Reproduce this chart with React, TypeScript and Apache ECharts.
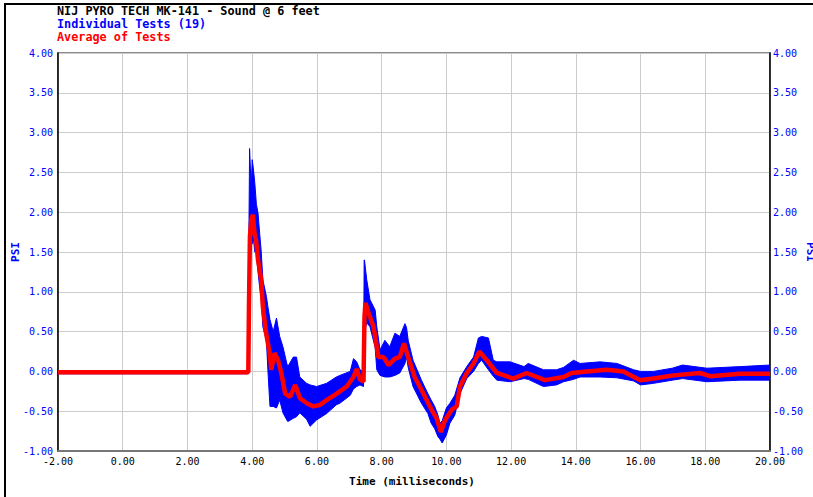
import React, { useEffect, useRef } from "react";
import * as echarts from "echarts";

const TITLE = "NIJ PYRO TECH MK-141 - Sound @ 6 feet";
const LEGEND_TESTS = "Individual Tests (19)";
const LEGEND_AVG = "Average of Tests";
const X_NAME = "Time (milliseconds)";
const Y_NAME = "PSI";

// Envelope of the 19 individual tests (time ms, lower PSI, upper PSI)
const BAND_T = [
  -2.0, 3.86, 3.88, 3.9, 3.92, 3.97, 4.0, 4.03, 4.08, 4.13, 4.18, 4.23, 4.28, 4.33, 4.44, 4.49,
  4.55, 4.65, 4.75, 4.85, 4.95, 5.07, 5.1, 5.27, 5.37, 5.47, 5.68, 5.79, 5.99, 6.3, 6.6, 6.71,
  7.03, 7.13, 7.23, 7.33, 7.44, 7.46, 7.47, 7.54, 7.64, 7.8, 7.85, 7.95, 8.1, 8.25, 8.41, 8.56,
  8.72, 8.77, 8.82, 8.97, 9.23, 9.43, 9.53, 9.64, 9.74, 9.8, 9.87, 10.0, 10.11, 10.26, 10.42,
  10.63, 10.84, 10.99, 11.09, 11.3, 11.45, 11.56, 11.97, 12.4, 12.53, 13.0, 13.4, 13.62, 13.93,
  14.13, 14.75, 15.27, 15.79, 16.0, 16.4, 16.98, 17.3, 18.05, 19.08, 20.0,
];
const BAND_LO = [
  -0.03, -0.03, -0.02, 0.7, 1.5, 1.65, 1.6, 1.7, 1.5, 1.49, 1.25, 1.06, 0.9, 0.56, 0.39, -0.02,
  -0.44, -0.44, -0.46, -0.36, -0.52, -0.61, -0.63, -0.59, -0.57, -0.52, -0.6, -0.69, -0.61, -0.53, -0.42, -0.4,
  -0.3, -0.22, -0.19, -0.17, -0.19, 0.2, 0.5, 0.61, 0.56, 0.3, 0.02, -0.05, -0.07, -0.07, -0.05, -0.02,
  0.1, 0.18, 0.05, -0.19, -0.4, -0.53, -0.65, -0.72, -0.82, -0.85, -0.9, -0.8, -0.65, -0.55, -0.28,
  -0.09, 0.0, 0.1, 0.14, 0.02, -0.06, -0.11, -0.13, -0.09, -0.1, -0.19, -0.17, -0.13, -0.1,
  -0.07, -0.07, -0.08, -0.12, -0.17, -0.15, -0.11, -0.09, -0.13, -0.11, -0.11,
];
const BAND_HI = [
  0.01, 0.01, 0.02, 1.8, 2.8, 2.3, 2.66, 2.57, 2.37, 2.1, 1.99, 1.74, 1.5, 1.15, 0.94, 0.8,
  0.65, 0.5, 0.67, 0.44, 0.31, 0.1, 0.06, 0.18, 0.18, -0.07, -0.15, -0.17, -0.19, -0.15, -0.07, -0.05,
  0.0, 0.16, 0.12, 0.02, 0.0, 1.4, 1.4, 1.15, 0.9, 0.77, 0.56, 0.27, 0.39, 0.31, 0.48, 0.44,
  0.6, 0.55, 0.39, 0.14, -0.11, -0.28, -0.36, -0.44, -0.55, -0.65, -0.62, -0.46, -0.4, -0.3, -0.08,
  0.06, 0.18, 0.42, 0.44, 0.42, 0.14, 0.12, 0.12, 0.06, 0.1, 0.02, 0.02, 0.05, 0.14,
  0.1, 0.12, 0.1, 0.02, 0.0, 0.0, 0.04, 0.08, 0.04, 0.06, 0.08,
];

// Average of tests
const AVG_T = [
  -2.0, 3.88, 3.9, 3.93, 3.97, 4.02, 4.07, 4.12, 4.18, 4.28, 4.33, 4.43, 4.54, 4.59, 4.69, 4.8,
  4.9, 5.02, 5.17, 5.33, 5.48, 5.69, 5.89, 6.1, 6.3, 6.61, 6.92, 7.13, 7.23, 7.33, 7.44, 7.47,
  7.5, 7.6, 7.75, 7.9, 8.06, 8.21, 8.41, 8.56, 8.69, 8.82, 9.02, 9.23, 9.54, 9.7, 9.83, 9.96,
  10.17, 10.32, 10.42, 10.63, 10.84, 11.02, 11.25, 11.56, 12.07, 12.48, 13.05, 13.62, 13.87,
  14.34, 14.96, 15.47, 15.99, 16.4, 17.02, 17.84, 18.15, 19.08, 20.0,
];
const AVG_V = [
  -0.01, -0.01, 0.8, 1.69, 1.9, 1.97, 1.74, 1.65, 1.4, 1.15, 0.81, 0.48, 0.23, 0.02, 0.23, 0.14,
  -0.02, -0.28, -0.32, -0.17, -0.34, -0.4, -0.44, -0.42, -0.36, -0.28, -0.19, -0.07, 0.03, -0.1, -0.13, 0.69,
  0.86, 0.73, 0.56, 0.18, 0.18, 0.08, 0.16, 0.18, 0.35, 0.18, -0.07, -0.23, -0.48, -0.59, -0.76, -0.61,
  -0.48, -0.44, -0.19, -0.02, 0.1, 0.25, 0.14, -0.02, -0.09, -0.02, -0.11, -0.07, -0.02,
  0.0, 0.02, 0.0, -0.11, -0.09, -0.05, -0.02, -0.06, -0.03, -0.03,
];

const X_MIN = -2;
const X_MAX = 20;
const X_STEP = 2;
const Y_MIN = -1;
const Y_MAX = 4;
const Y_STEP = 0.5;

const MONO = "'DejaVu Sans Mono', 'Liberation Mono', monospace";
const BLUE = "#0000ff";
const RED = "#ff0000";

export default function App() {
  const ref = useRef<HTMLDivElement>(null);

  useEffect(() => {
    if (!ref.current) return;
    const chart = echarts.init(ref.current, null, { renderer: "svg" });

    const bandData = BAND_T.map((t, i) => [t, BAND_LO[i], BAND_HI[i]]);
    const avgData = AVG_T.map((t, i) => [t, AVG_V[i]]);

    const yLabel = {
      color: BLUE,
      fontFamily: MONO,
      fontSize: 10,
      formatter: (v: number) => v.toFixed(2),
    };

    const renderBand = (params: any, api: any) => {
      if (params.dataIndex !== 0) return null;
      const upper = BAND_T.map((t, i) => api.coord([t, BAND_HI[i]]));
      const lower = BAND_T.map((t, i) => api.coord([t, BAND_LO[i]])).reverse();
      const cs = params.coordSys;
      return {
        type: "polygon",
        shape: { points: upper.concat(lower) },
        style: { fill: BLUE, stroke: BLUE, lineWidth: 1 },
        clipPath: {
          type: "rect",
          shape: { x: cs.x, y: cs.y, width: cs.width, height: cs.height },
        },
      };
    };

    const textStyle = (text: string, fill: string, size: number, align = "left") => ({
      text,
      fill,
      font: `bold ${size}px ${MONO}`,
      textAlign: align,
      textVerticalAlign: "middle",
      lineHeight: 12,
    });

    chart.setOption({
      animation: false,
      backgroundColor: "#ffffff",
      grid: {
        left: 58,
        right: 43,
        top: 53,
        bottom: 46,
        show: true,
        borderColor: "#666666",
        borderWidth: 1.5,
        outerBoundsMode: "none",
      },
      xAxis: {
        type: "value",
        min: X_MIN,
        max: X_MAX,
        interval: X_STEP,
        axisLine: { show: true, onZero: false, lineStyle: { color: "#777777", width: 2 } },
        axisTick: { show: false },
        axisLabel: {
          color: "#000000",
          fontFamily: MONO,
          fontSize: 10,
          margin: 5,
          formatter: (v: number) => v.toFixed(2),
        },
        splitLine: { show: true, lineStyle: { color: "#cccccc", width: 1 } },
      },
      yAxis: [
        {
          type: "value",
          position: "left",
          min: Y_MIN,
          max: Y_MAX,
          interval: Y_STEP,
          axisLine: { show: true, onZero: false, lineStyle: { color: "#000000", width: 1.5 } },
          axisTick: { show: false },
          axisLabel: { ...yLabel, margin: 5 },
          splitLine: { show: true, lineStyle: { color: "#cccccc", width: 1 } },
        },
        {
          type: "value",
          position: "right",
          min: Y_MIN,
          max: Y_MAX,
          interval: Y_STEP,
          axisLine: { show: true, onZero: false, lineStyle: { color: "#000000", width: 1.5 } },
          axisTick: { show: false },
          axisLabel: { ...yLabel, margin: 3 },
          splitLine: { show: false },
        },
      ],
      series: [
        {
          name: LEGEND_TESTS,
          type: "custom",
          data: bandData,
          encode: { x: 0, y: [1, 2] },
          renderItem: renderBand,
          z: 2,
          silent: true,
        },
        {
          name: LEGEND_AVG,
          type: "line",
          data: avgData,
          symbol: "none",
          showSymbol: false,
          lineStyle: { color: RED, width: 4.5 },
          z: 3,
        },
      ],
      graphic: [
        {
          type: "rect",
          shape: { x: 5, y: 4, width: 1000, height: 1000 },
          style: { fill: "none", stroke: "#000000", lineWidth: 2 },
          silent: true,
        },
        { type: "text", x: 57, y: 11, style: textStyle(TITLE, "#000000", 11.8) },
        { type: "text", x: 57, y: 24, style: textStyle(LEGEND_TESTS, BLUE, 11.8) },
        { type: "text", x: 57, y: 37, style: textStyle(LEGEND_AVG, RED, 11.8) },
        {
          type: "text",
          x: 15,
          y: 252,
          rotation: Math.PI / 2,
          style: textStyle(Y_NAME, BLUE, 11, "center"),
        },
        {
          type: "text",
          x: 810,
          y: 252,
          rotation: -Math.PI / 2,
          style: textStyle(Y_NAME, BLUE, 11, "center"),
        },
        { type: "text", x: 412, y: 481, style: textStyle(X_NAME, "#000000", 11, "center") },
      ],
    });

    return () => chart.dispose();
  }, []);

  return (
    <div
      ref={ref}
      style={{ position: "absolute", left: 0, top: 0, width: 813, height: 497 }}
    />
  );
}
